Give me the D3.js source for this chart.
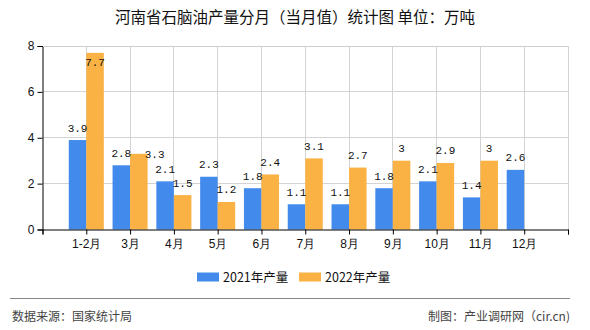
<!DOCTYPE html>
<html><head><meta charset="utf-8">
<script src="https://cdn.jsdelivr.net/npm/d3@7/dist/d3.min.js"></script>
<style>
body{margin:0;background:#fff;}
svg{display:block;font-family:"Noto Sans CJK SC","Noto Sans",sans-serif;}
</style></head>
<body><svg id="c" width="590" height="330"></svg>
<script>
const categories = ["1-2月","3月","4月","5月","6月","7月","8月","9月","10月","11月","12月"];
const values2021 = [3.9,2.8,2.1,2.3,1.8,1.1,1.1,1.8,2.1,1.4,2.6];
const values2022 = [7.7,3.3,1.5,1.2,2.4,3.1,2.7,3,2.9,3,null];
const seriesNames = ["2021年产量","2022年产量"];
const yTicks = [0,2,4,6,8];
const titleText = "河南省石脑油产量分月（当月值）统计图 单位：万吨";
const sourceText = "数据来源：国家统计局";
const creditText = "制图：产业调研网（cir.cn)";

const colors = ["#428BEC","#FAB244"];
const svg = d3.select("#c");
const m = {l:42.5, r:568, t:46, b:229.5};
const x = d3.scaleLinear().domain([0, categories.length+1]).range([m.l, m.r]);
const y = d3.scaleLinear().domain([0,8]).range([m.b, m.t]);
const step = x(1)-x(0);
const bw = step*0.4;

// title
svg.append("text").attr("x",295).attr("y",23).attr("text-anchor","middle")
  .attr("font-size",15.5).attr("fill","#111").text(titleText);

// grid
const g = svg.append("g");
g.selectAll("line.h").data(yTicks.slice(1)).join("line")
  .attr("x1",m.l).attr("x2",m.r).attr("y1",d=>y(d)).attr("y2",d=>y(d))
  .attr("stroke","#d3d3d3").attr("stroke-width",1).attr("shape-rendering","crispEdges");
g.selectAll("line.v").data(d3.range(1,categories.length+2)).join("line")
  .attr("x1",d=>x(d)).attr("x2",d=>x(d)).attr("y1",m.t).attr("y2",m.b)
  .attr("stroke","#d3d3d3").attr("stroke-width",1).attr("shape-rendering","crispEdges");

// bars
const bars = svg.append("g");
categories.forEach((c,i)=>{
  const cx = x(i+1);
  [values2021[i], values2022[i]].forEach((v,s)=>{
    if(v==null) return;
    bars.append("rect").attr("x", s===0? cx-bw : cx).attr("width",bw)
      .attr("y",y(v)).attr("height",y(0)-y(v)).attr("fill",colors[s]);
  });
});

// labels
const lab = svg.append("g").attr("font-family","'Liberation Mono','DejaVu Sans Mono',monospace")
  .attr("font-size",11).attr("fill","#111").attr("text-anchor","middle");
categories.forEach((c,i)=>{
  const cx = x(i+1);
  const pos = [];
  [values2021[i], values2022[i]].forEach((v,s)=>{
    if(v==null){pos.push(null);return;}
    let lx = s===0? cx-bw/2 : cx+bw/2;
    let ly = Math.max(y(v)-8.5, m.t+20);
    const txt = String(v);
    const w = txt.length*6.6;
    if(s===1 && pos[0]){
      const p = pos[0];
      if(Math.abs(p.y-ly)<13 && (lx-w/2) < (p.x+p.w/2)){
        lx = cx+bw+7; ly = y(v)+4;
      }
    }
    pos.push({x:lx,y:ly,w:w});
    lab.append("text").attr("x",lx).attr("y",ly).text(txt);
  });
});

// axes
const yAxis = d3.axisLeft(y).tickValues(yTicks).tickSize(5).tickFormat(d3.format("d"));
const ya = svg.append("g").attr("transform",`translate(${m.l},0)`).call(yAxis);
ya.select(".domain").attr("stroke","#000");
ya.selectAll(".tick line").attr("stroke","#000");
ya.selectAll(".tick text").attr("font-size",12).attr("fill","#111").attr("font-family","'Liberation Sans',sans-serif");

const xAxis = d3.axisBottom(x).tickValues(d3.range(0,categories.length+2)).tickSize(5)
  .tickFormat(d=> (d>=1 && d<=categories.length)? categories[d-1] : "");
const xa = svg.append("g").attr("transform",`translate(0,${m.b})`).call(xAxis);
xa.select(".domain").attr("stroke","#000");
xa.selectAll(".tick line").attr("stroke","#000");
xa.selectAll(".tick text").attr("font-size",12).attr("fill","#111").attr("dy","0.9em");

// top border
svg.append("line").attr("x1",m.l).attr("x2",m.r).attr("y1",m.t).attr("y2",m.t)
  .attr("stroke","#cfcfcf").attr("shape-rendering","crispEdges");

// legend
const lg = svg.append("g");
const legendItems = [{x:197,name:seriesNames[0],c:colors[0]},{x:299,name:seriesNames[1],c:colors[1]}];
legendItems.forEach(d=>{
  lg.append("rect").attr("x",d.x).attr("y",272.5).attr("width",22).attr("height",9).attr("fill",d.c);
  lg.append("text").attr("x",d.x+26).attr("y",281.5).attr("font-size",12.5).attr("fill","#111").text(d.name);
});

// footer
svg.append("line").attr("x1",10).attr("x2",570).attr("y1",298.5).attr("y2",298.5)
  .attr("stroke","#888").attr("stroke-width",1.2);
svg.append("text").attr("x",12).attr("y",321).attr("font-size",12).attr("fill","#444").text(sourceText);
svg.append("text").attr("x",570).attr("y",321).attr("font-size",12).attr("fill","#444")
  .attr("text-anchor","end").text(creditText);
</script></body></html>
